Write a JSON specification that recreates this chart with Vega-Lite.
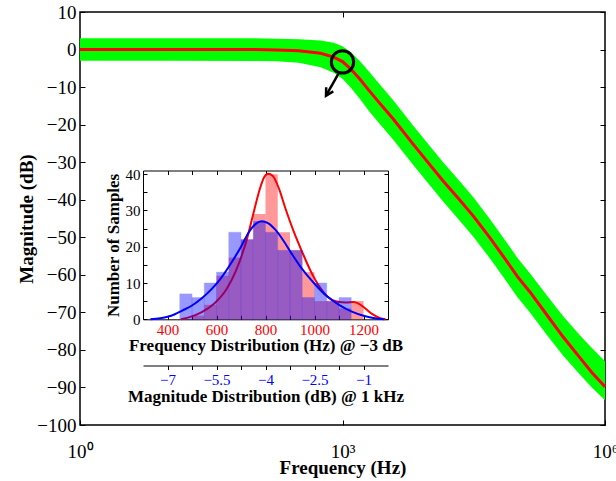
{
  "$schema": "https://vega.github.io/schema/vega-lite/v6.json",
  "width": 525,
  "height": 413,
  "autosize": {"type": "none"},
  "padding": {"left": 80, "top": 12, "right": 11, "bottom": 56},
  "background": "white",
  "config": {
    "view": {"stroke": "black", "strokeWidth": 1.5},
    "axis": {
      "labelFont": "Liberation Serif",
      "titleFont": "Liberation Serif",
      "labelColor": "black",
      "titleColor": "black",
      "titleFontWeight": "bold",
      "domainColor": "black",
      "tickColor": "black",
      "grid": false,
      "labelFlush": false,
      "labelOverlap": false
    }
  },
  "datasets": {
    "response": [
      {"f": 1, "db": 0, "lo": -3, "hi": 3},
      {"f": 10, "db": 0, "lo": -3, "hi": 3},
      {"f": 100, "db": -0.02, "lo": -3.02, "hi": 2.98},
      {"f": 177.8, "db": -0.1, "lo": -3.1, "hi": 2.9},
      {"f": 316.2, "db": -0.35, "lo": -3.55, "hi": 2.75},
      {"f": 562.3, "db": -1.0, "lo": -4.7, "hi": 2.4},
      {"f": 794.3, "db": -2.0, "lo": -6.2, "hi": 1.8},
      {"f": 1000, "db": -3.2, "lo": -7.8, "hi": 0.9},
      {"f": 1258.9, "db": -5.3, "lo": -10.3, "hi": -0.8},
      {"f": 1584.9, "db": -7.9, "lo": -13.2, "hi": -3.1},
      {"f": 1995.3, "db": -10.8, "lo": -16.3, "hi": -5.8},
      {"f": 2511.9, "db": -13.6, "lo": -19.1, "hi": -8.6},
      {"f": 3801.9, "db": -18.5, "lo": -24, "hi": -13.5},
      {"f": 6309.6, "db": -25, "lo": -30.5, "hi": -20},
      {"f": 9120.1, "db": -29.6, "lo": -35.1, "hi": -24.6},
      {"f": 14125, "db": -35, "lo": -40.5, "hi": -30},
      {"f": 21878, "db": -40.1, "lo": -45.6, "hi": -35.1},
      {"f": 31623, "db": -44.5, "lo": -50, "hi": -39.5},
      {"f": 48978, "db": -50.3, "lo": -55.8, "hi": -45.3},
      {"f": 70795, "db": -55.5, "lo": -61, "hi": -50.5},
      {"f": 100000, "db": -60.5, "lo": -66, "hi": -55.5},
      {"f": 138038, "db": -64.5, "lo": -70, "hi": -59.5},
      {"f": 213796, "db": -70.5, "lo": -75.8, "hi": -65.3},
      {"f": 331131, "db": -76.5, "lo": -81.5, "hi": -71},
      {"f": 512861, "db": -82, "lo": -86.5, "hi": -76},
      {"f": 707946, "db": -86, "lo": -90, "hi": -79.5},
      {"f": 1000000, "db": -89.8, "lo": -93.4, "hi": -83}
    ],
    "cutoff": [{"f": 1000, "db": -3.3}],
    "pointer": [{"f0": 900, "db0": -6.4, "f1": 648, "db1": -12.3}],
    "freqHist": [
      {"lo": 500, "hi": 550, "n": 1},
      {"lo": 550, "hi": 600, "n": 4},
      {"lo": 600, "hi": 650, "n": 12},
      {"lo": 650, "hi": 700, "n": 17},
      {"lo": 700, "hi": 750, "n": 22},
      {"lo": 750, "hi": 800, "n": 29},
      {"lo": 800, "hi": 850, "n": 40},
      {"lo": 850, "hi": 900, "n": 24},
      {"lo": 900, "hi": 950, "n": 19},
      {"lo": 950, "hi": 1000, "n": 13},
      {"lo": 1000, "hi": 1050, "n": 5},
      {"lo": 1050, "hi": 1100, "n": 5},
      {"lo": 1100, "hi": 1150, "n": 3},
      {"lo": 1150, "hi": 1200, "n": 5}
    ],
    "freqDensity": [
      {"hz": 455, "n": 0}, {"hz": 490, "n": 0.6}, {"hz": 540, "n": 2}, {"hz": 590, "n": 4.3},
      {"hz": 640, "n": 8.2}, {"hz": 680, "n": 13.5}, {"hz": 700, "n": 17}, {"hz": 725, "n": 22.3},
      {"hz": 750, "n": 29}, {"hz": 775, "n": 35.5}, {"hz": 795, "n": 39.2}, {"hz": 810, "n": 40.1},
      {"hz": 830, "n": 39.5}, {"hz": 855, "n": 36}, {"hz": 880, "n": 30.8}, {"hz": 915, "n": 24.2},
      {"hz": 950, "n": 18.5}, {"hz": 985, "n": 13.2}, {"hz": 1020, "n": 9}, {"hz": 1055, "n": 6.1},
      {"hz": 1090, "n": 4.9}, {"hz": 1130, "n": 4.6}, {"hz": 1160, "n": 4.8}, {"hz": 1190, "n": 3.9},
      {"hz": 1230, "n": 1.7}, {"hz": 1265, "n": 0.4}, {"hz": 1290, "n": 0}
    ],
    "magHist": [
      {"lo": -6.625, "hi": -6.25, "n": 7},
      {"lo": -6.25, "hi": -5.875, "n": 6},
      {"lo": -5.875, "hi": -5.5, "n": 10},
      {"lo": -5.5, "hi": -5.125, "n": 13},
      {"lo": -5.125, "hi": -4.75, "n": 24},
      {"lo": -4.75, "hi": -4.375, "n": 22},
      {"lo": -4.375, "hi": -4.0, "n": 27},
      {"lo": -4.0, "hi": -3.625, "n": 24},
      {"lo": -3.625, "hi": -3.25, "n": 19},
      {"lo": -3.25, "hi": -2.875, "n": 19},
      {"lo": -2.875, "hi": -2.5, "n": 6},
      {"lo": -2.5, "hi": -2.125, "n": 10},
      {"lo": -2.125, "hi": -1.75, "n": 5},
      {"lo": -1.75, "hi": -1.375, "n": 6}
    ],
    "magDensity": [
      {"mag": -7.525, "n": 0}, {"mag": -7.225, "n": 0.3}, {"mag": -7.0, "n": 0.7}, {"mag": -6.775, "n": 1.4},
      {"mag": -6.55, "n": 2.4}, {"mag": -6.25, "n": 3.8}, {"mag": -5.95, "n": 5.8}, {"mag": -5.65, "n": 8.3},
      {"mag": -5.35, "n": 11.5}, {"mag": -5.05, "n": 15.5}, {"mag": -4.75, "n": 20}, {"mag": -4.525, "n": 23.8},
      {"mag": -4.3, "n": 26.3}, {"mag": -4.1125, "n": 27}, {"mag": -3.925, "n": 26.5}, {"mag": -3.7, "n": 24.7},
      {"mag": -3.475, "n": 22}, {"mag": -3.25, "n": 18.8}, {"mag": -2.875, "n": 13.8}, {"mag": -2.5, "n": 9.8},
      {"mag": -2.125, "n": 6.4}, {"mag": -1.75, "n": 4}, {"mag": -1.375, "n": 2.2}, {"mag": -1.0, "n": 1.0},
      {"mag": -0.7, "n": 0.35}, {"mag": -0.3625, "n": 0}
    ]
  },
  "layer": [
    {
      "data": {"name": "response"},
      "mark": {"type": "area", "color": "#00ff00", "opacity": 1},
      "encoding": {
        "x": {
          "field": "f", "type": "quantitative",
          "scale": {"type": "log", "domain": [1, 1000000], "nice": false},
          "axis": {
            "orient": "bottom", "values": [1, 1000, 1000000],
            "labelExpr": "datum.value == 1 ? '10⁰' : datum.value == 1000 ? '10³' : '10⁶'",
            "labelFontSize": 19, "labelPadding": 22, "tickSize": -5, "domain": false,
            "title": "Frequency (Hz)", "titleFontSize": 19,
            "titleY": 48, "titleBaseline": "alphabetic"
          }
        },
        "y": {
          "field": "lo", "type": "quantitative",
          "scale": {"domain": [-100, 10], "nice": false, "zero": false},
          "axis": {
            "orient": "left", "values": [-100, -90, -80, -70, -60, -50, -40, -30, -20, -10, 0, 10],
            "labelFontSize": 19, "labelPadding": 9, "tickSize": -5, "domain": false,
            "title": "Magnitude (dB)", "titleFontSize": 19, "titlePadding": 0
          }
        },
        "y2": {"field": "hi"}
      }
    },
    {
      "data": {"name": "response"},
      "mark": {"type": "line", "color": "#ff0000", "strokeWidth": 3},
      "encoding": {
        "x": {
          "field": "f", "type": "quantitative",
          "scale": {"type": "log", "domain": [1, 1000000], "nice": false},
          "axis": {"orient": "top", "values": [1000], "labels": false, "tickSize": -5, "domain": false, "title": null}
        },
        "y": {
          "field": "db", "type": "quantitative",
          "scale": {"domain": [-100, 10], "nice": false, "zero": false},
          "axis": {
            "orient": "right", "values": [-100, -90, -80, -70, -60, -50, -40, -30, -20, -10, 0, 10],
            "labels": false, "tickSize": -5, "domain": false, "title": null
          }
        }
      }
    },
    {
      "data": {"name": "cutoff"},
      "mark": {"type": "point", "shape": "circle", "size": 500, "filled": false, "stroke": "black", "strokeWidth": 3, "opacity": 1},
      "encoding": {
        "x": {"field": "f", "type": "quantitative", "scale": {"type": "log", "domain": [1, 1000000], "nice": false}, "axis": null},
        "y": {"field": "db", "type": "quantitative", "scale": {"domain": [-100, 10], "nice": false, "zero": false}, "axis": null}
      }
    },
    {
      "data": {"name": "pointer"},
      "mark": {"type": "rule", "color": "black", "strokeWidth": 2.5},
      "encoding": {
        "x": {"field": "f0", "type": "quantitative", "scale": {"type": "log", "domain": [1, 1000000], "nice": false}, "axis": null},
        "y": {"field": "db0", "type": "quantitative", "scale": {"domain": [-100, 10], "nice": false, "zero": false}, "axis": null},
        "x2": {"field": "f1"},
        "y2": {"field": "db1"}
      }
    },
    {
      "data": {"name": "pointer"},
      "mark": {"type": "point", "shape": "M-0.55,-1L0,0L0.55,-1", "size": 220, "filled": false, "stroke": "black", "strokeWidth": 2.5, "angle": 30, "opacity": 1},
      "encoding": {
        "x": {"field": "f1", "type": "quantitative", "scale": {"type": "log", "domain": [1, 1000000], "nice": false}, "axis": null},
        "y": {"field": "db1", "type": "quantitative", "scale": {"domain": [-100, 10], "nice": false, "zero": false}, "axis": null}
      }
    },
    {
      "data": {"name": "freqHist"},
      "mark": {"type": "rect", "color": "#ff0000", "opacity": 0.4},
      "encoding": {
        "x": {
          "field": "lo", "type": "quantitative",
          "scale": {"domain": [300, 1300], "range": [63, 308], "nice": false, "zero": false},
          "axis": {
            "orient": "bottom", "offset": -105.7,
            "values": [400, 500, 600, 700, 800, 900, 1000, 1100, 1200], "format": "d",
            "labelExpr": "datum.value % 200 === 0 ? datum.label : ''",
            "labelColor": "#ff0000", "labelFontSize": 15, "labelPadding": 7, "tickSize": -4,
            "title": "Frequency Distribution (Hz) @ −3 dB", "titleFontSize": 17, "titlePadding": 0
          }
        },
        "x2": {"field": "hi"},
        "y": {
          "field": "n", "type": "quantitative",
          "scale": {"domain": [0, 41], "range": [307.3, 158.5], "nice": false, "zero": false},
          "axis": {
            "orient": "left", "offset": -63,
            "values": [0, 5, 10, 15, 20, 25, 30, 35, 40],
            "labelExpr": "datum.value % 10 === 0 ? datum.label : ''",
            "labelFontSize": 15, "labelPadding": 7, "tickSize": -4,
            "title": "Number of Samples", "titleFontSize": 17, "titlePadding": 3
          }
        },
        "y2": {"datum": 0}
      }
    },
    {
      "data": {"name": "freqDensity"},
      "mark": {"type": "line", "color": "#ff0000", "strokeWidth": 2, "interpolate": "monotone"},
      "encoding": {
        "x": {
          "field": "hz", "type": "quantitative",
          "scale": {"domain": [300, 1300], "range": [63, 308], "nice": false, "zero": false},
          "axis": {
            "orient": "top", "offset": -158.5,
            "values": [400, 500, 600, 700, 800, 900, 1000, 1100, 1200],
            "labels": false, "tickSize": -4, "title": null
          }
        },
        "y": {
          "field": "n", "type": "quantitative",
          "scale": {"domain": [0, 41], "range": [307.3, 158.5], "nice": false, "zero": false},
          "axis": {
            "orient": "right", "offset": -217,
            "values": [0, 5, 10, 15, 20, 25, 30, 35, 40],
            "labels": false, "tickSize": -4, "title": null
          }
        }
      }
    },
    {
      "data": {"name": "magHist"},
      "mark": {"type": "rect", "color": "#0000ff", "opacity": 0.4, "stroke": "#0000ff", "strokeWidth": 0.8, "strokeOpacity": 0.5},
      "encoding": {
        "x": {
          "field": "lo", "type": "quantitative",
          "scale": {"domain": [-7.75, -0.25], "range": [63, 308], "nice": false, "zero": false},
          "axis": {
            "orient": "bottom", "offset": -59.5,
            "values": [-7, -6.25, -5.5, -4.75, -4, -3.25, -2.5, -1.75, -1],
            "labelExpr": "datum.value == -7 ? '−7' : datum.value == -5.5 ? '−5.5' : datum.value == -4 ? '−4' : datum.value == -2.5 ? '−2.5' : datum.value == -1 ? '−1' : ''",
            "labelColor": "#0000ff", "labelFontSize": 15, "labelPadding": 3, "tickSize": 4,
            "title": "Magnitude Distribution (dB) @ 1 kHz", "titleFontSize": 17, "titlePadding": 1
          }
        },
        "x2": {"field": "hi"},
        "y": {
          "field": "n", "type": "quantitative",
          "scale": {"domain": [0, 41], "range": [307.3, 158.5], "nice": false, "zero": false},
          "axis": null
        },
        "y2": {"datum": 0}
      }
    },
    {
      "data": {"name": "magDensity"},
      "mark": {"type": "line", "color": "#0000ff", "strokeWidth": 2, "interpolate": "monotone"},
      "encoding": {
        "x": {
          "field": "mag", "type": "quantitative",
          "scale": {"domain": [-7.75, -0.25], "range": [63, 308], "nice": false, "zero": false},
          "axis": null
        },
        "y": {
          "field": "n", "type": "quantitative",
          "scale": {"domain": [0, 41], "range": [307.3, 158.5], "nice": false, "zero": false},
          "axis": null
        }
      }
    }
  ],
  "resolve": {
    "scale": {"x": "independent", "y": "independent"},
    "axis": {"x": "independent", "y": "independent"}
  }
}
